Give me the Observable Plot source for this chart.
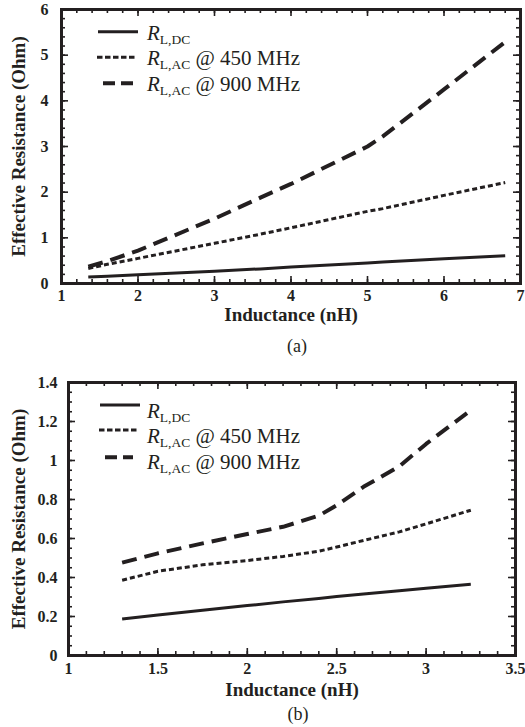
<!DOCTYPE html>
<html><head><meta charset="utf-8">
<script src="https://cdn.jsdelivr.net/npm/d3@7"></script>
<script src="https://cdn.jsdelivr.net/npm/@observablehq/plot@0.6"></script>
<style>
html,body{margin:0;padding:0;background:#fff;overflow:hidden;width:525px;height:727px;}
#root{position:relative;width:525px;height:727px;overflow:hidden;}
.panel{position:absolute;left:0;}
.caption{position:absolute;font-family:"Liberation Serif","Times New Roman",serif;font-size:18px;color:#231f20;transform:translateX(-50%);line-height:1;}
#legend{position:absolute;left:0;top:0;width:525px;height:727px;pointer-events:none;}
</style></head><body><div id="root"></div>
<script>
// ---------- data ----------
const seriesNames = ["DC", "AC450", "AC900"];
const legendSub = ["L,DC", "L,AC", "L,AC"];
const legendTail = ["", " @ 450 MHz", " @ 900 MHz"];

// panel (a)
const inductanceA = [1.35, 1.6, 2.0, 3.0, 3.6, 4.0, 5.0, 5.2, 6.0, 6.8];
const dcA    = [0.14, 0.16, 0.19, 0.27, 0.32, 0.36, 0.45, 0.47, 0.54, 0.61];
const ac450A = [0.33, 0.42, 0.55, 0.88, 1.08, 1.22, 1.58, 1.64, 1.93, 2.21];
const ac900A = [0.37, 0.49, 0.72, 1.42, 1.88, 2.18, 3.00, 3.22, 4.25, 5.29];
const xTicksA = [1, 2, 3, 4, 5, 6, 7];
const yTicksA = [0, 1, 2, 3, 4, 5, 6];

// panel (b)
const inductanceB = [1.3, 1.5, 1.75, 2.0, 2.2, 2.4, 2.5, 2.65, 2.85, 3.0, 3.25];
const dcB    = [0.187, 0.208, 0.232, 0.256, 0.275, 0.292, 0.302, 0.315, 0.332, 0.345, 0.365];
const ac450B = [0.386, 0.432, 0.465, 0.487, 0.508, 0.535, 0.556, 0.59, 0.634, 0.675, 0.745];
const ac900B = [0.476, 0.524, 0.575, 0.623, 0.66, 0.717, 0.77, 0.865, 0.97, 1.085, 1.258];
const xTicksB = [1, 1.5, 2, 2.5, 3, 3.5];
const yTicksB = [0, 0.2, 0.4, 0.6, 0.8, 1, 1.2, 1.4];

const xLabel = "Inductance (nH)";
const yLabel = "Effective Resistance (Ohm)";
const captions = ["(a)", "(b)"];

// ---------- drawing ----------
const ink = "#231f20";
const serif = "'Liberation Serif','Times New Roman',serif";
const lineStyles = [
  {w: 3, dash: null, legendDash: null},
  {w: 3, dash: "5,3", legendDash: "5.5,2.5"},
  {w: 4, dash: "15,8", legendDash: "12,6"}
];

function steps(lo, hi, step) {
  const n = Math.round((hi - lo) / step);
  return d3.range(n + 1).map(i => +(lo + i * step).toFixed(4));
}

function makePanel(o) {
  const pw = o.width - o.marginLeft - o.marginRight;
  const ph = o.height - o.marginTop - o.marginBottom;
  const rows = [];
  o.values.forEach((vals, s) => o.inductance.forEach((x, j) => rows.push({x, y: vals[j], s})));
  const xMinor = steps(o.xTicks[0], o.xTicks[o.xTicks.length - 1], o.xMinorStep);
  const yMinor = steps(o.yTicks[0], o.yTicks[o.yTicks.length - 1], o.yMinorStep);
  const major = 7, minor = 4;
  const tickOpts = {stroke: ink, strokeWidth: 1.6};
  return Plot.plot({
    width: o.width, height: o.height,
    marginLeft: o.marginLeft, marginRight: o.marginRight, marginTop: o.marginTop, marginBottom: o.marginBottom,
    style: {fontFamily: serif, fontSize: "16px", fontWeight: "bold", color: ink, background: "transparent", overflow: "visible"},
    x: {domain: [o.xTicks[0], o.xTicks[o.xTicks.length - 1]]},
    y: {domain: [o.yTicks[0], o.yTicks[o.yTicks.length - 1]]},
    marks: [
      // inward ticks, all four sides
      Plot.tickX(xMinor, {x: d => d, insetTop: ph - minor, ...tickOpts}),
      Plot.tickX(xMinor, {x: d => d, insetBottom: ph - minor, ...tickOpts}),
      Plot.tickX(o.xTicks, {x: d => d, insetTop: ph - major, ...tickOpts}),
      Plot.tickX(o.xTicks, {x: d => d, insetBottom: ph - major, ...tickOpts}),
      Plot.tickY(yMinor, {y: d => d, insetRight: pw - minor, ...tickOpts}),
      Plot.tickY(yMinor, {y: d => d, insetLeft: pw - minor, ...tickOpts}),
      Plot.tickY(o.yTicks, {y: d => d, insetRight: pw - major, ...tickOpts}),
      Plot.tickY(o.yTicks, {y: d => d, insetLeft: pw - major, ...tickOpts}),
      ...seriesNames.map((name, s) => Plot.line(rows.filter(r => r.s === s), {
        x: "x", y: "y", stroke: ink, strokeWidth: lineStyles[s].w,
        strokeDasharray: lineStyles[s].dash, strokeLinecap: "butt", strokeLinejoin: "round"
      })),
      Plot.frame({stroke: ink, strokeWidth: 3}),
      Plot.axisX(o.xTicks, {anchor: "bottom", tickSize: 0, tickPadding: o.tickPadX, label: null, tickFormat: d => String(d), fill: ink}),
      Plot.axisY(o.yTicks, {anchor: "left", tickSize: 0, tickPadding: o.tickPadY, label: null, tickFormat: d => String(d), fill: ink}),
      Plot.text([xLabel], {frameAnchor: "bottom", text: d => d, dy: o.xLabelOffset, lineAnchor: "bottom", textAnchor: "middle", fontSize: 19, fontWeight: "bold", fill: ink}),
      Plot.text([yLabel], {frameAnchor: "left", text: d => d, dx: -o.yLabelOffset, rotate: -90, lineAnchor: "top", textAnchor: "middle", fontSize: 19, fontWeight: "bold", fill: ink})
    ]
  });
}

const root = document.getElementById("root");

const panels = [
  {top: 0, width: 525, height: 330, marginLeft: 61, marginRight: 5, marginTop: 9, marginBottom: 47,
   xTicks: xTicksA, yTicks: yTicksA, xMinorStep: 0.2, yMinorStep: 0.2,
   inductance: inductanceA, values: [dcA, ac450A, ac900A],
   tickPadX: 6, tickPadY: 13, xLabelOffset: 37.5, yLabelOffset: 50,
   caption: {x: 297, y: 337},
   legend: {lineY: [31.7, 57.3, 83.3], textY: [40, 65, 91], lx: [[98, 138], [97, 137], [103, 133]], tx: 147}},
  {top: 370, width: 525, height: 330, marginLeft: 68, marginRight: 10, marginTop: 12, marginBottom: 45,
   xTicks: xTicksB, yTicks: yTicksB, xMinorStep: 0.1, yMinorStep: 0.05,
   inductance: inductanceB, values: [dcB, ac450B, ac900B],
   tickPadX: 7, tickPadY: 11, xLabelOffset: 40, yLabelOffset: 57,
   caption: {x: 298, y: 705},
   legend: {lineY: [405, 430, 457.3], textY: [418, 443, 469], lx: [[100, 140], [99, 138], [105, 133]], tx: 147}}
];

const legendSvg = d3.select(root).append("svg").attr("id", "legend").attr("width", 525).attr("height", 727);

panels.forEach((p, i) => {
  const div = document.createElement("div");
  div.className = "panel";
  div.style.top = p.top + "px";
  div.appendChild(makePanel(p));
  root.appendChild(div);

  const cap = document.createElement("div");
  cap.className = "caption";
  cap.style.left = p.caption.x + "px";
  cap.style.top = p.caption.y + "px";
  cap.textContent = captions[i];
  root.appendChild(cap);

  seriesNames.forEach((name, s) => {
    legendSvg.append("line")
      .attr("x1", p.legend.lx[s][0]).attr("x2", p.legend.lx[s][1])
      .attr("y1", p.legend.lineY[s]).attr("y2", p.legend.lineY[s])
      .attr("stroke", ink).attr("stroke-width", lineStyles[s].w)
      .attr("stroke-dasharray", lineStyles[s].legendDash);
    const t = legendSvg.append("text")
      .attr("x", p.legend.tx).attr("y", p.legend.textY[s])
      .attr("font-family", serif).attr("font-size", 21).attr("fill", ink);
    t.append("tspan").attr("font-style", "italic").text("R");
    t.append("tspan").attr("font-size", 13.5).attr("dy", 4).text(legendSub[s]);
    if (legendTail[s]) t.append("tspan").attr("dy", -4).text(legendTail[s]);
  });
});
</script>
</body></html>
